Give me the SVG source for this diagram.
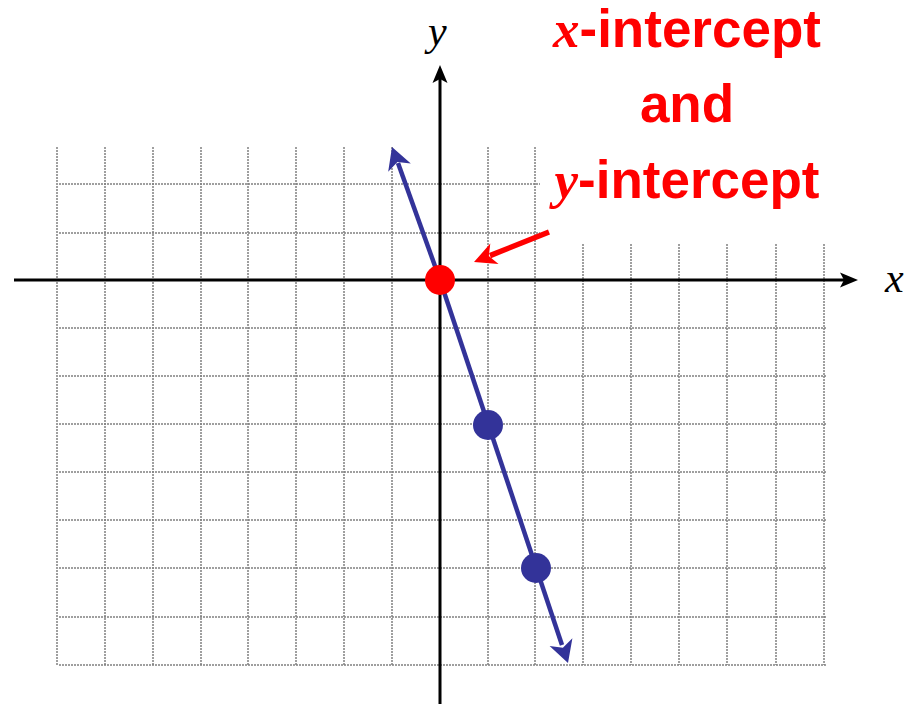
<svg xmlns="http://www.w3.org/2000/svg" width="908" height="704" viewBox="0 0 908 704">
<style>
.grid line{stroke:#808080;stroke-width:1.5;stroke-dasharray:2 1}
.axis{stroke:#000;stroke-width:3;fill:none}
.line{stroke:#333399;stroke-width:4.5;fill:none}
.lbl{font-family:"Liberation Serif",serif;font-style:italic;font-size:42px;fill:#000}
.red{font-family:"Liberation Sans",Arial,sans-serif;font-weight:bold;font-size:53px;fill:#ff0000}
.it{font-family:"Liberation Serif",serif;font-style:italic}
.hb{fill:#333399}
.hk{fill:#000}
.hr{fill:#ff0000}
</style>
<rect width="908" height="704" fill="#fff"/>
<g id="grid" class="grid">
<line x1="57" y1="147" x2="57" y2="665"/>
<line x1="105" y1="147" x2="105" y2="665"/>
<line x1="153" y1="147" x2="153" y2="665"/>
<line x1="201" y1="147" x2="201" y2="665"/>
<line x1="248" y1="147" x2="248" y2="665"/>
<line x1="296" y1="147" x2="296" y2="665"/>
<line x1="344" y1="147" x2="344" y2="665"/>
<line x1="392" y1="147" x2="392" y2="665"/>
<line x1="488" y1="147" x2="488" y2="665"/>
<line x1="535" y1="147" x2="535" y2="665"/>
<line x1="583" y1="244" x2="583" y2="665"/>
<line x1="631" y1="244" x2="631" y2="665"/>
<line x1="679" y1="244" x2="679" y2="665"/>
<line x1="727" y1="244" x2="727" y2="665"/>
<line x1="776" y1="244" x2="776" y2="665"/>
<line x1="824" y1="244" x2="824" y2="665"/>
<line x1="59" y1="184" x2="540" y2="184"/>
<line x1="59" y1="233" x2="540" y2="233"/>
<line x1="59" y1="328" x2="827" y2="328"/>
<line x1="59" y1="376" x2="827" y2="376"/>
<line x1="59" y1="424" x2="827" y2="424"/>
<line x1="59" y1="472" x2="827" y2="472"/>
<line x1="59" y1="520" x2="827" y2="520"/>
<line x1="59" y1="568" x2="827" y2="568"/>
<line x1="59" y1="617" x2="827" y2="617"/>
<line x1="59" y1="665" x2="827" y2="665"/>
</g>
<g id="axes">
<line class="axis" x1="14" y1="280" x2="845" y2="280"/>
<path class="hk" d="M840,272.5 L858,280 L840,287.5 L844,280 z"/>
<line class="axis" x1="440" y1="704" x2="440" y2="78"/>
<path class="hk" d="M432.5,83 L440,65 L447.5,83 L440,79 z"/>
<text class="lbl" x="885" y="292">x</text>
<text class="lbl" x="428" y="45">y</text>
</g>
<g id="connectors">
<line class="line" x1="440" y1="280" x2="398" y2="163"/>
<path class="hb" d="M392,147 L410.8,163.6 L397.4,162 L388.2,171.8 z"/>
<line class="line" x1="440" y1="280" x2="562" y2="645"/>
<path class="hb" d="M568,663 L572.4,638.3 L562.9,647.8 L549.6,645.9 z"/>
<line x1="549" y1="232" x2="490" y2="255.6" stroke="#ff0000" stroke-width="5.5"/>
<path class="hr" d="M474,262 L490.3,243.6 L488.8,256.1 L498.5,264 z"/>
</g>
<g id="points">
<circle cx="440" cy="280" r="15" fill="#ff0000"/>
<circle cx="488" cy="425" r="15" fill="#333399"/>
<circle cx="536" cy="568" r="15" fill="#333399"/>
</g>
<g id="label">
<text class="red" x="687" y="47" text-anchor="middle"><tspan class="it">x</tspan>-intercept</text>
<text class="red" x="687" y="122" text-anchor="middle">and</text>
<text class="red" x="687" y="198" text-anchor="middle"><tspan class="it">y</tspan>-intercept</text>
</g>
</svg>
